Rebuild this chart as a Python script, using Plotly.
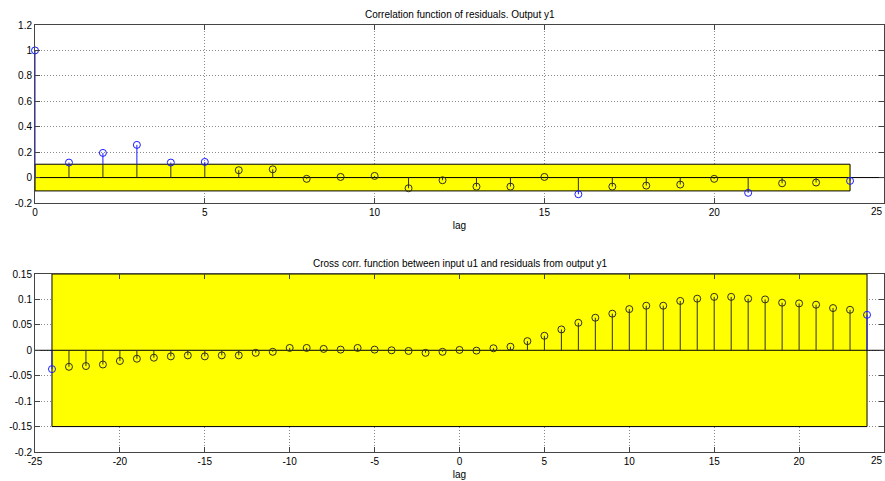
import plotly.graph_objects as go

# Autocorrelation of residuals, output y1 (lags 0..24)
auto_lags = list(range(0, 25))
auto_vals = [1.0, 0.118, 0.194, 0.257, 0.118, 0.123, 0.058, 0.065, -0.010,
             0.005, 0.013, -0.084, -0.021, -0.071, -0.071, 0.005, -0.131,
             -0.071, -0.063, -0.055, -0.010, -0.120, -0.045, -0.039, -0.026]
auto_conf = 0.105

# Cross correlation between input u1 and residuals of y1 (lags -24..24)
cross_lags = list(range(-24, 25))
cross_vals = [-0.037, -0.0325, -0.031, -0.028, -0.021, -0.0166, -0.0146,
              -0.012, -0.010, -0.012, -0.010, -0.010, -0.005, -0.003,
              0.0046, 0.0046, 0.0027, 0.0013, 0.0046, 0.0013, 0.0, -0.0013,
              -0.005, -0.003, 0.0007, -0.0007, 0.004, 0.007, 0.018, 0.0285,
              0.041, 0.054, 0.064, 0.072, 0.081, 0.0876, 0.0876, 0.097,
              0.1015, 0.105, 0.105, 0.1015, 0.100, 0.0936, 0.0922, 0.0896,
              0.083, 0.0796, 0.0697]
cross_conf = 0.15

titles = ["Correlation function of residuals. Output y1",
          "Cross corr. function between input u1 and residuals from output y1"]

auto_xticks = [0, 5, 10, 15, 20, 25]
auto_yticks = [-0.2, 0, 0.2, 0.4, 0.6, 0.8, 1, 1.2]
cross_xticks = [-25, -20, -15, -10, -5, 0, 5, 10, 15, 20, 25]
cross_yticks = [-0.2, -0.15, -0.1, -0.05, 0, 0.05, 0.1, 0.15]

BLUE = "#1a1aff"
DARK = "#2f2f20"
FONT = dict(family="Liberation Sans, Arial, sans-serif", size=10, color="#000")


def label(v):
    # plain hyphen minus, trimmed decimals
    return "%g" % v


fig = go.Figure()


def add_stems(lags, vals, conf, xa, ya):
    lo, hi = min(lags), max(lags)
    bx, by, dx, dy = [], [], [], []
    for x, v in zip(lags, vals):
        if x in (lo, hi):
            bx += [x, x, None]
            by += [0, v, None]
            continue
        clipped = max(-conf, min(conf, v))
        dx += [x, x, None]
        dy += [0, clipped, None]
        if abs(v) > conf:
            bx += [x, x, None]
            by += [clipped, v, None]
    fig.add_trace(go.Scatter(x=dx, y=dy, mode="lines", xaxis=xa, yaxis=ya,
                             line=dict(color=DARK, width=1), hoverinfo="skip",
                             showlegend=False))
    fig.add_trace(go.Scatter(x=bx, y=by, mode="lines", xaxis=xa, yaxis=ya,
                             line=dict(color=BLUE, width=1), hoverinfo="skip",
                             showlegend=False))
    colors = [BLUE if (x in (lo, hi) or abs(v) > conf) else DARK
              for x, v in zip(lags, vals)]
    fig.add_trace(go.Scatter(x=lags, y=vals, mode="markers", xaxis=xa, yaxis=ya,
                             marker=dict(symbol="circle-open", size=7,
                                         color=colors, line=dict(width=1)),
                             cliponaxis=False, showlegend=False))


# zero baselines across each axis
fig.add_trace(go.Scatter(x=[0, 25], y=[0, 0], mode="lines", xaxis="x", yaxis="y",
                         line=dict(color="#000", width=1), showlegend=False,
                         hoverinfo="skip"))
fig.add_trace(go.Scatter(x=[-25, 25], y=[0, 0], mode="lines", xaxis="x2", yaxis="y2",
                         line=dict(color="#000", width=1), showlegend=False,
                         hoverinfo="skip"))

add_stems(auto_lags, auto_vals, auto_conf, "x", "y")
add_stems(cross_lags, cross_vals, cross_conf, "x2", "y2")

# confidence regions
fig.add_shape(type="rect", xref="x", yref="y", x0=min(auto_lags), x1=max(auto_lags),
              y0=-auto_conf, y1=auto_conf, fillcolor="#ffff00",
              line=dict(color="#000", width=1), layer="between")
fig.add_shape(type="rect", xref="x2", yref="y2", x0=min(cross_lags), x1=max(cross_lags),
              y0=-cross_conf, y1=cross_conf, fillcolor="#ffff00",
              line=dict(color="#000", width=1), layer="between")

xdom = [35 / 885, 884 / 885]
ydom_top = [1 - 203 / 481, 1 - 25 / 481]
ydom_bot = [1 - 452 / 481, 1 - 274 / 481]
axis_common = dict(showgrid=True, gridcolor="#8a8a8a", griddash="1px,2px", gridwidth=1,
                   zeroline=False, showline=True, linecolor="#444", linewidth=1,
                   mirror="ticks", ticks="inside", ticklen=5, tickcolor="#444",
                   tickfont=FONT, automargin=False, tickmode="array")

annotations = [
    dict(text=titles[0], xref="paper", yref="paper", x=(xdom[0] + xdom[1]) / 2,
         y=ydom_top[1], yanchor="bottom", showarrow=False, font=FONT, yshift=3),
    dict(text=titles[1], xref="paper", yref="paper", x=(xdom[0] + xdom[1]) / 2,
         y=ydom_bot[1], yanchor="bottom", showarrow=False, font=FONT, yshift=3),
]
# last x tick label sits at the right page edge, so right-align it there
for xref, dom, ticks in (("x", ydom_top, auto_xticks), ("x2", ydom_bot, cross_xticks)):
    annotations.append(dict(text=label(ticks[-1]), xref=xref, yref="paper",
                            x=ticks[-1], y=dom[0], xanchor="right", yanchor="top",
                            yshift=-1, xshift=1, showarrow=False, font=FONT))

fig.update_layout(
    template="none",
    width=885, height=481, margin=dict(l=0, r=0, t=0, b=0, autoexpand=False),
    paper_bgcolor="#fff", plot_bgcolor="#fff", font=FONT, showlegend=False,
    xaxis=dict(domain=xdom, range=[0, 25], tickvals=auto_xticks[:-1],
               ticktext=[label(v) for v in auto_xticks[:-1]],
               anchor="y", title=dict(text="lag", font=FONT, standoff=4),
               **axis_common),
    yaxis=dict(domain=ydom_top, range=[-0.2, 1.2],
               tickvals=auto_yticks, ticktext=[label(v) for v in auto_yticks],
               anchor="x", **axis_common),
    xaxis2=dict(domain=xdom, range=[-25, 25], tickvals=cross_xticks[:-1],
                ticktext=[label(v) for v in cross_xticks[:-1]],
                anchor="y2", title=dict(text="lag", font=FONT, standoff=4),
                **axis_common),
    yaxis2=dict(domain=ydom_bot, range=[-0.2, 0.15],
                tickvals=cross_yticks, ticktext=[label(v) for v in cross_yticks],
                anchor="x2", **axis_common),
    annotations=annotations,
)

fig.write_html("out.html")
